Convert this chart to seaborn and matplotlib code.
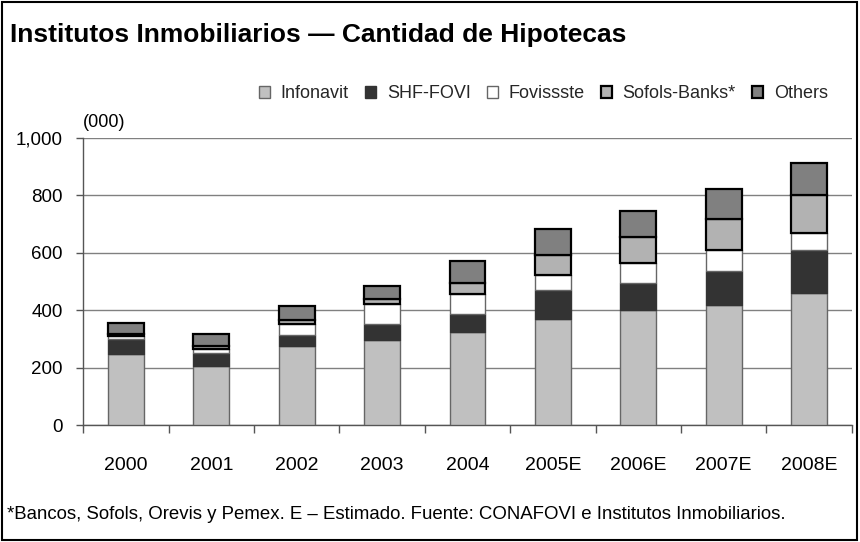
import numpy as np
import seaborn as sns
import matplotlib.pyplot as plt
from matplotlib.patches import Patch, Rectangle
from matplotlib.ticker import FuncFormatter, FixedLocator

# Data (thousands of mortgages)
years = ["2000", "2001", "2002", "2003", "2004", "2005E", "2006E", "2007E", "2008E"]
infonavit = [248, 207, 275, 296, 323, 371, 400, 418, 461]
shf_fovi = [51, 43, 38, 55, 63, 98, 95, 118, 147]
fovissste = [12, 17, 38, 69, 69, 53, 69, 72, 61]
sofols_banks = [8, 9, 16, 20, 40, 69, 90, 109, 133]
others = [35, 43, 49, 44, 77, 90, 91, 104, 109]

series_names = ["Infonavit", "SHF-FOVI", "Fovissste", "Sofols-Banks*", "Others"]
series_vals = [infonavit, shf_fovi, fovissste, sofols_banks, others]
face = ["#c0c0c0", "#333333", "#ffffff", "#b2b2b2", "#808080"]
edge = ["#666666", "#333333", "#666666", "#000000", "#000000"]
lw = [1.0, 1.0, 1.0, 1.6, 1.6]

sns.set_theme(style="white")
plt.rcParams["font.family"] = ["Liberation Sans", "DejaVu Sans"]

fig = plt.figure(figsize=(8.6, 5.42), dpi=100)
ax = fig.add_axes([0.0969, 0.2153, 0.8934, 0.5307])

# stacked bars, one seaborn call per series
bottom = np.zeros(len(years))
for name, vals, fc, ec, w in zip(series_names, series_vals, face, edge, lw):
    sns.barplot(x=years, y=vals, bottom=bottom, color=fc, edgecolor=ec,
                linewidth=w, width=0.42, ax=ax, zorder=3)
    bottom = bottom + np.array(vals)

ax.set_xlim(-0.5, len(years) - 0.5)
ax.set_ylim(0, 1000)
ax.set_yticks(range(0, 1001, 200))
ax.yaxis.set_major_formatter(FuncFormatter(lambda v, p: f"{int(v):,}"))
ax.yaxis.grid(True, color="#808080", linewidth=1)
ax.set_axisbelow(True)

ax.xaxis.set_minor_locator(FixedLocator(np.arange(-0.5, len(years), 1.0)))
ax.tick_params(axis="x", which="major", length=0, pad=23, labelsize=14)
ax.tick_params(axis="x", which="minor", length=6, width=1, color="#555555",
               direction="out", bottom=True)
ax.tick_params(axis="y", which="major", length=5, width=1, color="#555555",
               direction="out", left=True, pad=10, labelsize=13.5)
for lab in ax.get_xticklabels() + ax.get_yticklabels():
    lab.set_color("#000000")
ax.set_xlabel("")
ax.set_ylabel("")
for s in ["top", "right"]:
    ax.spines[s].set_visible(False)
for s in ["left", "bottom"]:
    ax.spines[s].set_color("#555555")
    ax.spines[s].set_linewidth(1)

fig.text(0.0116, 0.923, "Institutos Inmobiliarios \u2014 Cantidad de Hipotecas",
         fontsize=19, fontweight="bold", ha="left", va="baseline", color="#000000")
fig.text(0.096, 0.766, "(000)", fontsize=13, ha="left", va="baseline", color="#000000")
fig.text(0.008, 0.0424,
         "*Bancos, Sofols, Orevis y Pemex. E \u2013 Estimado. Fuente: CONAFOVI e Institutos Inmobiliarios.",
         fontsize=13.4, ha="left", va="baseline", color="#000000")

handles = [Patch(facecolor=fc, edgecolor=ec, linewidth=w)
           for fc, ec, w in zip(face, edge, lw)]
fig.legend(handles, series_names, loc="center right", bbox_to_anchor=(0.971, 0.8266),
           ncol=5, frameon=False, fontsize=13, handlelength=0.6, handleheight=0.6,
           handletextpad=0.6, columnspacing=0.9, borderaxespad=0)

fig.patches.append(Rectangle((0.002, 0.004), 0.995, 0.993, transform=fig.transFigure,
                             fill=False, edgecolor="#000000", linewidth=1.5))

fig.savefig("out.png", dpi=100)
